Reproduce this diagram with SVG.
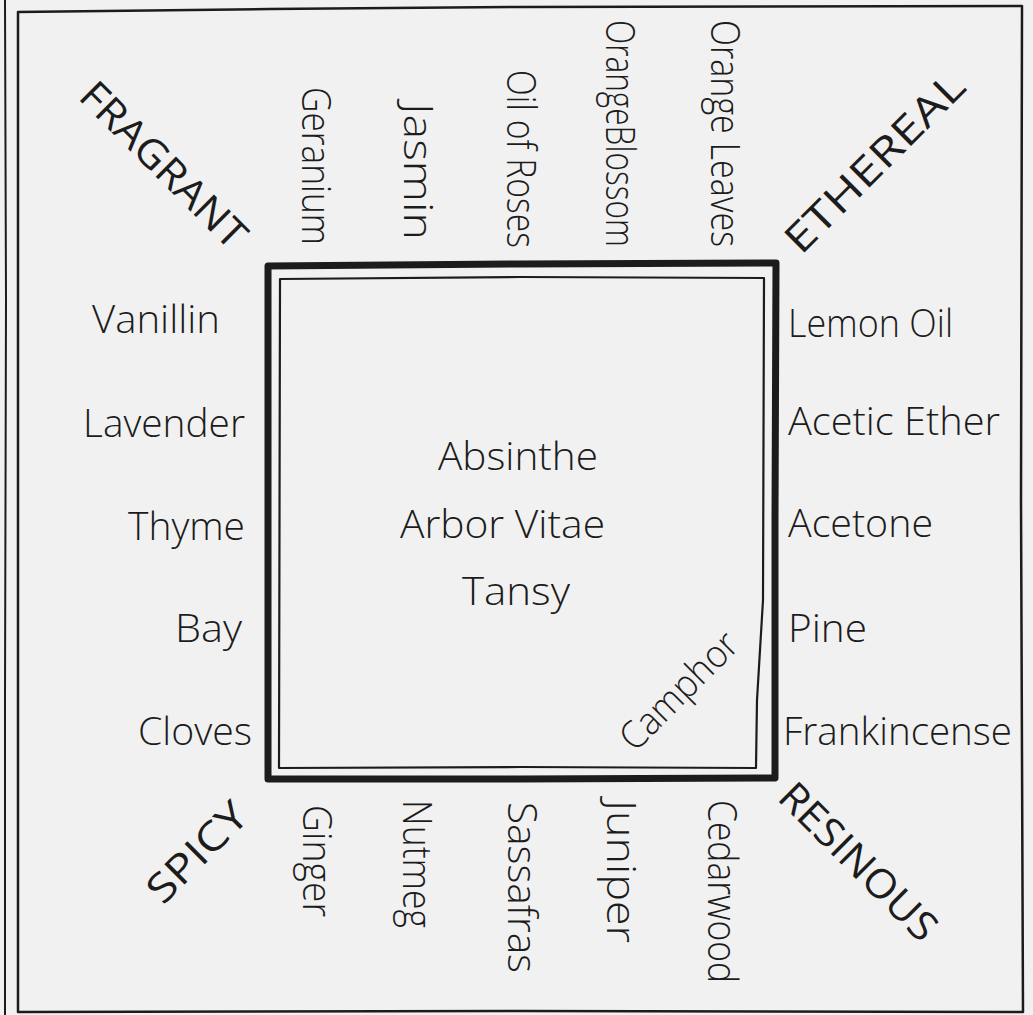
<svg xmlns="http://www.w3.org/2000/svg" width="1033" height="1015" viewBox="0 0 1033 1015">
<style>
.lbl{font-family:"Open Sans","Liberation Sans",sans-serif;font-weight:300;font-size:38px;fill:#1c1c1c}
.v{font-size:40px}
.hd{font-family:"Open Sans","Liberation Sans",sans-serif;font-weight:500;font-size:40px;fill:#1c1c1c}
.frame{fill:none;stroke:#1c1c1c;stroke-linejoin:round;stroke-linecap:round}
</style>
<rect x="0" y="0" width="1033" height="1015" fill="#f2f1f1"/>
<g id="frame">
<path class="frame" stroke-width="2" d="M5,0 L6,300 L5,700 L5,1015"/>
<path class="frame" stroke-width="2.5" d="M18,12 L270,9 L520,7 L1022,6 L1021,500 L1023,1012 L520,1011 L18,1012 Z"/>
</g>
<g id="square">
<path class="frame" stroke-width="7" d="M268,266 L520,264 L776,263 L775,520 L775,778 L520,779 L268,779 Z"/>
<path class="frame" stroke-width="2.2" d="M280,279 L520,277 L764,278 L763,600 L760,650 L757,700 L756,768 L520,767 L279,768 Z"/>
</g>
<g id="center">
<text class="lbl" x="438" y="470" textLength="160" lengthAdjust="spacingAndGlyphs">Absinthe</text>
<text class="lbl" x="400" y="538" textLength="205" lengthAdjust="spacingAndGlyphs">Arbor Vitae</text>
<text class="lbl" x="462" y="605" textLength="108" lengthAdjust="spacingAndGlyphs">Tansy</text>
<text class="lbl" font-size="36" transform="translate(635,753) rotate(-45)" textLength="150" lengthAdjust="spacingAndGlyphs">Camphor</text>
</g>
<g id="left">
<text class="lbl" x="92" y="333" textLength="128" lengthAdjust="spacingAndGlyphs">Vanillin</text>
<text class="lbl" x="83" y="437" textLength="162" lengthAdjust="spacingAndGlyphs">Lavender</text>
<text class="lbl" x="128" y="540" textLength="117" lengthAdjust="spacingAndGlyphs">Thyme</text>
<text class="lbl" x="175" y="642" textLength="67" lengthAdjust="spacingAndGlyphs">Bay</text>
<text class="lbl" x="138" y="745" textLength="114" lengthAdjust="spacingAndGlyphs">Cloves</text>
</g>
<g id="right">
<text class="lbl" x="788" y="337" textLength="165" lengthAdjust="spacingAndGlyphs">Lemon Oil</text>
<text class="lbl" x="788" y="435" textLength="212" lengthAdjust="spacingAndGlyphs">Acetic Ether</text>
<text class="lbl" x="788" y="537" textLength="145" lengthAdjust="spacingAndGlyphs">Acetone</text>
<text class="lbl" x="788" y="642" textLength="79" lengthAdjust="spacingAndGlyphs">Pine</text>
<text class="lbl" x="783" y="745" textLength="229" lengthAdjust="spacingAndGlyphs">Frankincense</text>
</g>
<g id="top">
<text class="lbl v" transform="translate(302,87) rotate(90)" textLength="158" lengthAdjust="spacingAndGlyphs">Geranium</text>
<text class="lbl v" transform="translate(404,103) rotate(90)" textLength="137" lengthAdjust="spacingAndGlyphs">Jasmin</text>
<text class="lbl v" transform="translate(507,70) rotate(90)" textLength="178" lengthAdjust="spacingAndGlyphs">Oil of Roses</text>
<text class="lbl v" transform="translate(606,20) rotate(90)" textLength="227" lengthAdjust="spacingAndGlyphs">OrangeBlossom</text>
<text class="lbl v" transform="translate(711,20) rotate(90)" textLength="227" lengthAdjust="spacingAndGlyphs">Orange Leaves</text>
</g>
<g id="bottom">
<text class="lbl v" transform="translate(303,805) rotate(90)" textLength="112" lengthAdjust="spacingAndGlyphs">Ginger</text>
<text class="lbl v" transform="translate(403,800) rotate(90)" textLength="128" lengthAdjust="spacingAndGlyphs">Nutmeg</text>
<text class="lbl v" transform="translate(508,802) rotate(90)" textLength="171" lengthAdjust="spacingAndGlyphs">Sassafras</text>
<text class="lbl v" transform="translate(607,800) rotate(90)" textLength="143" lengthAdjust="spacingAndGlyphs">Juniper</text>
<text class="lbl v" transform="translate(708,800) rotate(90)" textLength="183" lengthAdjust="spacingAndGlyphs">Cedarwood</text>
</g>
<g id="headings">
<text class="hd" transform="translate(77,98) rotate(45)" textLength="217" lengthAdjust="spacingAndGlyphs">FRAGRANT</text>
<text class="hd" transform="translate(801,256) rotate(-45)" textLength="236" lengthAdjust="spacingAndGlyphs">ETHEREAL</text>
<text class="hd" transform="translate(163,906) rotate(-45)" textLength="124" lengthAdjust="spacingAndGlyphs">SPICY</text>
<text class="hd" transform="translate(776,799) rotate(45)" textLength="205" lengthAdjust="spacingAndGlyphs">RESINOUS</text>
</g>
</svg>
